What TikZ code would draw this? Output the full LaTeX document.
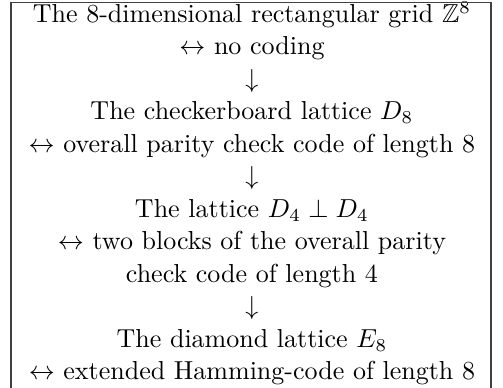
\documentclass[tikz,border=0pt]{standalone}
\usepackage{amssymb}
\begin{document}
\begin{tikzpicture}[x=1pt,y=1pt,
  ln/.style={anchor=base,inner sep=0pt,font=\fontsize{10pt}{12pt}\selectfont},
  frame/.style={draw=black!75,line width=0.5pt}]
\useasboundingbox (0,0) rectangle (193.46,-149.23);
\def\cx{96.9}
\def\by{8.65}
\def\dy{12.5}
\node[ln] (l1)  at (\cx,-\by-0*\dy)  {The 8-dimensional rectangular grid $\mathbb{Z}^8$};
\node[ln] (l2)  at (\cx,-\by-1*\dy)  {$\leftrightarrow$ no coding};
\node[ln] (l3)  at (\cx,-\by-2*\dy)  {$\downarrow$};
\node[ln] (l4)  at (\cx,-\by-3*\dy)  {The checkerboard lattice $D_8$};
\node[ln] (l5)  at (\cx,-\by-4*\dy)  {$\leftrightarrow$ overall parity check code of length 8};
\node[ln] (l6)  at (\cx,-\by-5*\dy)  {$\downarrow$};
\node[ln] (l7)  at (\cx,-\by-6*\dy)  {The lattice $D_4 \perp D_4$};
\node[ln] (l8)  at (\cx,-\by-7*\dy)  {$\leftrightarrow$ two blocks of the overall parity};
\node[ln] (l9)  at (\cx,-\by-8*\dy)  {check code of length 4};
\node[ln] (l10) at (\cx,-\by-9*\dy)  {$\downarrow$};
\node[ln] (l11) at (\cx,-\by-10*\dy) {The diamond lattice $E_8$};
\node[ln] (l12) at (\cx,-\by-11*\dy) {$\leftrightarrow$ extended Hamming-code of length 8};
\draw[frame] (4.23,-170) -- (4.23,-0.85) -- (188.85,-0.85) -- (188.85,-170);
\end{tikzpicture}
\end{document}
